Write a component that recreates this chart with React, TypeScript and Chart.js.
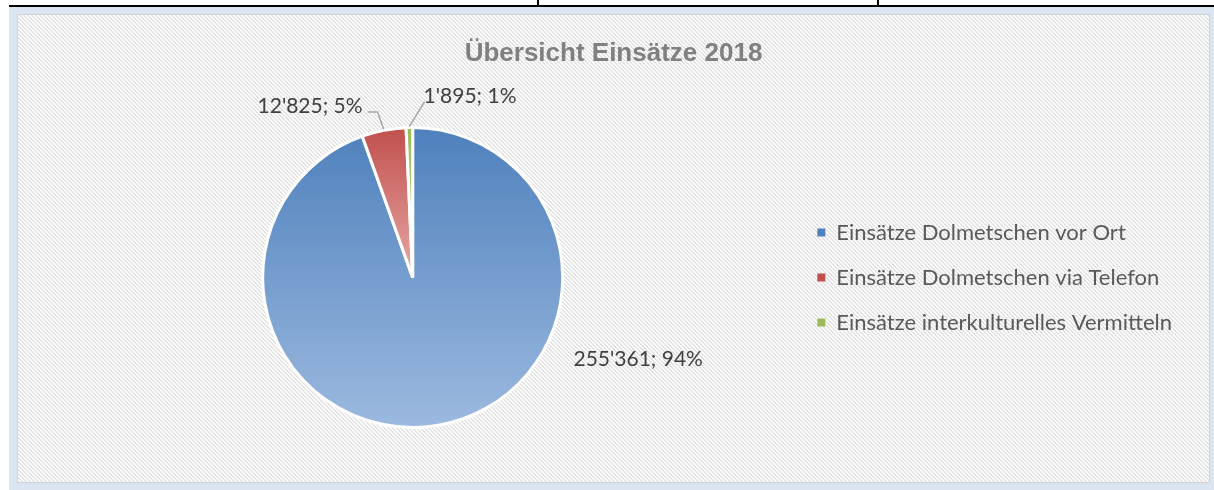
import React, { useEffect, useRef } from 'react';
import { Chart, registerables } from 'chart.js';

Chart.register(...registerables);

const titleText = 'Übersicht Einsätze 2018';
const categories = [
  'Einsätze Dolmetschen vor Ort',
  'Einsätze Dolmetschen via Telefon',
  'Einsätze interkulturelles Vermitteln',
];
const values = [255361, 12825, 1895];
const percentLabels = ['94%', '5%', '1%'];
const baseColors = ['#4f81bd', '#c0504d', '#9bbb59'];
const lightColors = ['#9cb9df', '#e8a8a6', '#cfe0aa'];

// label placement: angle (deg, clockwise from top) and distance in radii
const labelAngles = [110.0, 329.1, 17.6];
const labelDist = [1.6, 1.332, 1.265];

const LABEL_FONT = '21px Lato';

function fmt(v: number): string {
  return String(v).replace(/\B(?=(\d{3})+(?!\d))/g, "'");
}

function makePattern(ctx: CanvasRenderingContext2D) {
  const c = document.createElement('canvas');
  c.width = 4;
  c.height = 4;
  const p = c.getContext('2d')!;
  p.fillStyle = '#ffffff';
  p.fillRect(0, 0, 4, 4);
  p.fillStyle = '#e2e2e2';
  for (let y = 0; y < 4; y++) {
    for (let x = 0; x < 4; x++) {
      if ((((x - y) % 4) + 4) % 4 < 2) p.fillRect(x, y, 1, 1);
    }
  }
  return ctx.createPattern(c, 'repeat');
}

const backgroundPlugin = {
  id: 'bgFrame',
  beforeDraw(chart: any) {
    const ctx: CanvasRenderingContext2D = chart.ctx;
    const W = chart.width;
    const H = chart.height;
    ctx.save();
    ctx.fillStyle = '#ffffff';
    ctx.fillRect(0, 0, W, H);
    // top table lines
    ctx.fillStyle = '#000000';
    ctx.fillRect(9, 5, W - 9, 2);
    ctx.fillRect(537, 0, 2, 5);
    ctx.fillRect(877, 0, 2, 5);
    // light blue frame
    ctx.fillStyle = '#dbe5f1';
    ctx.fillRect(9, 7, W - 9, H - 7);
    // hatched chart background
    const pat = makePattern(ctx);
    if (pat) ctx.fillStyle = pat;
    ctx.fillRect(17, 14, W - 4 - 17, H - 7 - 14);
    ctx.strokeStyle = '#d4d4d4';
    ctx.lineWidth = 1;
    ctx.strokeRect(17.5, 14.5, W - 4 - 18, H - 7 - 15);
    // title
    ctx.fillStyle = '#808080';
    ctx.font = 'bold 26px "Liberation Sans"';
    ctx.textAlign = 'center';
    ctx.textBaseline = 'alphabetic';
    ctx.fillText(titleText, (17 + W - 4) / 2, 61);
    ctx.restore();
  },
};

const gradientPlugin = {
  id: 'sliceGradients',
  beforeDatasetsDraw(chart: any) {
    const ctx: CanvasRenderingContext2D = chart.ctx;
    const meta = chart.getDatasetMeta(0);
    meta.data.forEach((arc: any, i: number) => {
      const { x, y, startAngle, endAngle, outerRadius } = arc.getProps(
        ['x', 'y', 'startAngle', 'endAngle', 'outerRadius'],
        true
      );
      let minY = y;
      let maxY = y;
      const steps = 90;
      for (let s = 0; s <= steps; s++) {
        const a = startAngle + ((endAngle - startAngle) * s) / steps;
        const py = y + outerRadius * Math.sin(a);
        minY = Math.min(minY, py);
        maxY = Math.max(maxY, py);
      }
      const g = ctx.createLinearGradient(0, minY, 0, maxY);
      g.addColorStop(0, baseColors[i]);
      g.addColorStop(1, lightColors[i]);
      arc.options.backgroundColor = g;
    });
  },
};

const labelPlugin = {
  id: 'pieLabels',
  afterDatasetsDraw(chart: any) {
    const ctx: CanvasRenderingContext2D = chart.ctx;
    const meta = chart.getDatasetMeta(0);
    ctx.save();
    ctx.font = LABEL_FONT;
    ctx.textAlign = 'center';
    ctx.textBaseline = 'middle';
    meta.data.forEach((arc: any, i: number) => {
      const { x, y, startAngle, endAngle, outerRadius } = arc.getProps(
        ['x', 'y', 'startAngle', 'endAngle', 'outerRadius'],
        true
      );
      const text = fmt(values[i]) + '; ' + percentLabels[i];
      const ang = (labelAngles[i] * Math.PI) / 180;
      const d = labelDist[i] * outerRadius;
      const lx = x + d * Math.sin(ang);
      const ly = y - d * Math.cos(ang);
      const w = ctx.measureText(text).width;
      // leader lines
      const mid = (startAngle + endAngle) / 2;
      const rx = x + (outerRadius + 1) * Math.cos(mid);
      const ry = y + (outerRadius + 1) * Math.sin(mid);
      ctx.strokeStyle = '#a6a6a6';
      ctx.lineWidth = 1.5;
      if (i === 1) {
        const sx = lx + w / 2 + 5;
        const sy = ly + 6;
        ctx.beginPath();
        ctx.moveTo(sx, sy);
        ctx.lineTo(sx + 10, sy);
        ctx.lineTo(rx, ry);
        ctx.stroke();
      } else if (i === 2) {
        const sx = lx - w / 2 + 1;
        const sy = ly + 5;
        ctx.beginPath();
        ctx.moveTo(sx, sy);
        ctx.lineTo(rx, ry);
        ctx.stroke();
      }
      ctx.fillStyle = '#404040';
      ctx.fillText(text, lx, ly);
    });
    ctx.restore();
  },
};

export default function App() {
  const ref = useRef<HTMLCanvasElement | null>(null);
  useEffect(() => {
    if (!ref.current) return;
    const chart = new Chart(ref.current, {
      type: 'pie',
      data: {
        labels: categories,
        datasets: [
          {
            data: values,
            backgroundColor: (c: any) => baseColors[c.dataIndex],
            borderColor: '#ffffff',
            borderWidth: 3,
          },
        ],
      },
      options: {
        responsive: false,
        animation: false,
        events: [],
        layout: { padding: { top: 126, bottom: 61, left: 31, right: 32 } },
        plugins: {
          title: { display: false },
          tooltip: { enabled: false },
          legend: {
            display: true,
            position: 'right',
            align: 'center',
            labels: {
              boxWidth: 8,
              boxHeight: 8,
              padding: 23,
              color: '#595959',
              font: { family: 'Lato', size: 22 },
              generateLabels: () =>
                categories.map((t, i) => ({
                  text: t,
                  fillStyle: baseColors[i],
                  strokeStyle: baseColors[i],
                  lineWidth: 0,
                  hidden: false,
                  index: i,
                  fontColor: '#595959',
                })),
            },
          },
        },
      },
      plugins: [backgroundPlugin, gradientPlugin, labelPlugin],
    } as any);
    return () => chart.destroy();
  }, []);
  return (
    <div style={{ position: 'fixed', left: 0, top: 0, width: 1214, height: 490 }}>
      <canvas ref={ref} width={1214} height={490} style={{ width: 1214, height: 490, display: 'block' }} />
    </div>
  );
}
